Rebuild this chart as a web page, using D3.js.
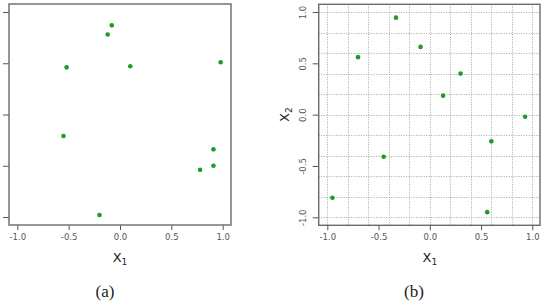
<!DOCTYPE html>
<html><head><meta charset="utf-8">
<script src="https://cdn.jsdelivr.net/npm/d3@7"></script>
<style>body{margin:0;background:#fff}svg{display:block}.cap{font-family:"Liberation Serif","DejaVu Serif","Times New Roman",serif}</style>
</head><body>
<svg id="c" width="545" height="305"></svg>
<script>
const aX = [-0.08, -0.12, -0.52, 0.10, 0.98, -0.55, 0.91, 0.91, 0.78, -0.20];
const aY = [0.87, 0.78, 0.46, 0.47, 0.51, -0.21, -0.34, -0.50, -0.54, -0.98];
const bX = [-0.70, -0.33, -0.09, 0.30, 0.13, 0.93, 0.60, -0.45, -0.95, 0.56];
const bY = [0.56, 0.945, 0.66, 0.40, 0.185, -0.02, -0.26, -0.41, -0.81, -0.95];
const tickVals = [-1.0, -0.5, 0.0, 0.5, 1.0];
const gridVals = [-1.0, -0.8, -0.6, -0.4, -0.2, 0.0, 0.2, 0.4, 0.6, 0.8, 1.0];
const captions = ["(a)", "(b)"];

const svg = d3.select("#c");
const fmt = d3.format(".1f");
const tickFont = "DejaVu Sans, Liberation Sans, sans-serif";

function panel(cfg) {
  const x = d3.scaleLinear().domain([-1, 1]).range([cfg.x0, cfg.x1]);
  const y = d3.scaleLinear().domain([-1, 1]).range([cfg.y0, cfg.y1]);
  const g = svg.append("g");
  if (cfg.grid) {
    const gg = g.append("g").attr("stroke", "#a8a8a8").attr("stroke-width", 1).attr("stroke-dasharray", "1,1.5");
    gg.selectAll("line.v").data(gridVals).join("line").attr("class","v")
      .attr("x1", d => Math.round(x(d)) + 0.5).attr("x2", d => Math.round(x(d)) + 0.5).attr("y1", cfg.by0).attr("y2", cfg.by1);
    gg.selectAll("line.h").data(gridVals).join("line").attr("class","h")
      .attr("y1", d => Math.round(y(d)) + 0.5).attr("y2", d => Math.round(y(d)) + 0.5).attr("x1", cfg.bx0).attr("x2", cfg.bx1);
  }
  const xa = g.append("g").attr("transform", `translate(0,${cfg.by1})`)
    .call(d3.axisBottom(x).tickValues(tickVals).tickFormat(d => fmt(d).replace("−","-")).tickSize(5).tickPadding(4));
  xa.select(".domain").remove();
  xa.selectAll("line").attr("stroke", "#555");
  xa.selectAll("text").attr("fill", "#555").attr("font-size", 8.5).attr("font-family", tickFont);
  const ya = g.append("g").attr("transform", `translate(${cfg.bx0},0)`)
    .call(d3.axisLeft(y).tickValues(tickVals).tickFormat(d => fmt(d).replace("−","-")).tickSize(6).tickPadding(4));
  ya.select(".domain").remove();
  ya.selectAll("line").attr("stroke", "#555");
  if (cfg.ylabels) {
    ya.selectAll("text").attr("fill", "#555").attr("font-size", 8.5).attr("font-family", tickFont)
      .attr("text-anchor", "middle").attr("dy", 0)
      .attr("transform", d => `translate(${-13},0) rotate(-90)`).attr("x", 0).attr("y", 0);
  } else {
    ya.selectAll("text").remove();
  }
  g.append("rect").attr("x", cfg.bx0).attr("y", cfg.by0)
    .attr("width", cfg.bx1 - cfg.bx0).attr("height", cfg.by1 - cfg.by0)
    .attr("fill", "none").attr("stroke", "#6a6a6a").attr("stroke-width", 1.4);
  g.selectAll("circle").data(cfg.xs.map((v, i) => [v, cfg.ys[i]])).join("circle")
    .attr("cx", d => x(d[0])).attr("cy", d => y(d[1])).attr("r", 2.3).attr("fill", "#239a23");
  const xl = g.append("text").attr("x", (cfg.x0 + cfg.x1) / 2).attr("y", 262)
    .attr("text-anchor", "middle").attr("font-family", tickFont).attr("font-size", 13).attr("fill", "#222");
  xl.append("tspan").text("X");
  xl.append("tspan").attr("font-size", 9).attr("dy", 3).text("1");
  if (cfg.ylabels) {
    const yl = g.append("text").attr("transform", `translate(289,${(cfg.y0 + cfg.y1) / 2}) rotate(-90)`)
      .attr("text-anchor", "middle").attr("font-family", tickFont).attr("font-size", 13).attr("fill", "#222");
    yl.append("tspan").text("X");
    yl.append("tspan").attr("font-size", 9).attr("dy", 3).text("2");
  }
  g.append("text").attr("class", "cap").attr("x", cfg.capX).attr("y", 297).attr("text-anchor", "middle")
    .attr("font-size", 17).attr("fill", "#222")
    .text(cfg.caption);
}

panel({x0: 17.3, x1: 222.7, y0: 217, y1: 12, bx0: 9, bx1: 231, by0: 4, by1: 225,
  xs: aX, ys: aY, grid: false, ylabels: false, caption: captions[0], capX: 105});
panel({x0: 327.3, x1: 532.3, y0: 217.3, y1: 12, bx0: 318.7, bx1: 540, by0: 4.3, by1: 225.3,
  xs: bX, ys: bY, grid: true, ylabels: true, caption: captions[1], capX: 414});
</script>
</body></html>
